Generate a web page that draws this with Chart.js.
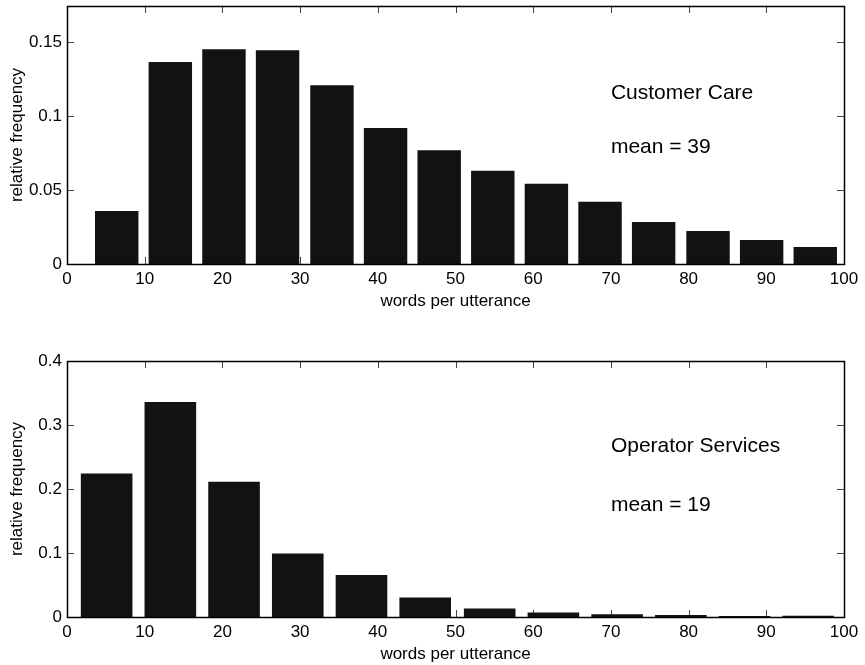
<!DOCTYPE html>
<html>
<head>
<meta charset="utf-8">
<title>words per utterance</title>
<script src="https://cdn.jsdelivr.net/npm/chart.js@4/dist/chart.umd.min.js"></script>
<style>
  body { margin: 0; background: #fff; }
  canvas { display: block; }
</style>
</head>
<body>
<canvas id="chartCare" width="865" height="332"></canvas>
<canvas id="chartOperator" width="865" height="333"></canvas>
<script>
// bin centres and relative frequencies
const careBins = [6.4, 13.3, 20.2, 27.1, 34.1, 41.0, 47.9, 54.8, 61.7, 68.6, 75.5, 82.5, 89.4, 96.3];
const careFreq = [0.0358, 0.1367, 0.1453, 0.1446, 0.1209, 0.0919, 0.0770, 0.0630, 0.0543, 0.0421, 0.0284, 0.0223, 0.0162, 0.0115];

const operatorBins = [5.1, 13.3, 21.5, 29.7, 37.9, 46.1, 54.4, 62.6, 70.8, 79.0, 87.2, 95.4];
const operatorFreq = [0.2244, 0.336, 0.2114, 0.0994, 0.0656, 0.0306, 0.0134, 0.0072, 0.0042, 0.0030, 0.0015, 0.0020];

const xTicks = [0, 10, 20, 30, 40, 50, 60, 70, 80, 90, 100];
const careYTicks = [0, 0.05, 0.1, 0.15];
const operatorYTicks = [0, 0.1, 0.2, 0.3, 0.4];

const careNotes = ['Customer Care', 'mean = 39'];
const operatorNotes = ['Operator Services', 'mean = 19'];

const fontFamily = '"Liberation Sans", Arial, Helvetica, sans-serif';
Chart.defaults.font.family = fontFamily;
Chart.defaults.color = '#000';

// matlab-like box with inward ticks on all four sides
const boxTicks = {
  id: 'boxTicks',
  beforeDatasetsDraw(chart) {
    const { ctx, chartArea: a, scales: { x, y } } = chart;
    const len = 7;
    ctx.save();
    ctx.strokeStyle = '#444';
    ctx.lineWidth = 1;
    ctx.beginPath();
    x.ticks.forEach(t => {
      const px = Math.round(x.getPixelForValue(t.value)) + 0.5;
      ctx.moveTo(px, a.bottom); ctx.lineTo(px, a.bottom - len);
      ctx.moveTo(px, a.top); ctx.lineTo(px, a.top + len);
    });
    y.ticks.forEach(t => {
      const py = Math.round(y.getPixelForValue(t.value)) + 0.5;
      ctx.moveTo(a.left, py); ctx.lineTo(a.left + len, py);
      ctx.moveTo(a.right, py); ctx.lineTo(a.right - len, py);
    });
    ctx.stroke();
    ctx.restore();
  },
  afterDatasetsDraw(chart) {
    const { ctx, chartArea: a } = chart;
    ctx.save();
    ctx.strokeStyle = '#000';
    ctx.lineWidth = 1.5;
    ctx.strokeRect(Math.round(a.left) + 0.5, Math.round(a.top) + 0.5,
      Math.round(a.right - a.left), Math.round(a.bottom - a.top));
    ctx.restore();
  },
  afterDraw(chart, args, opts) {
    const { ctx, scales: { x, y } } = chart;
    ctx.save();
    ctx.fillStyle = '#000';
    ctx.font = '21px ' + fontFamily;
    ctx.textBaseline = 'middle';
    ctx.textAlign = 'left';
    opts.notes.forEach((txt, i) => {
      ctx.fillText(txt, x.getPixelForValue(opts.noteX), y.getPixelForValue(opts.noteY[i]));
    });
    ctx.restore();
  }
};

function makeChart(id, bins, freq, yTicks, yMax, padding, notes, noteY) {
  const ctx = document.getElementById(id).getContext('2d');
  return new Chart(ctx, {
    type: 'bar',
    data: {
      datasets: [{
        data: bins.map((b, i) => ({ x: b, y: freq[i] })),
        backgroundColor: '#121212',
        borderWidth: 0,
        barPercentage: 1,
        categoryPercentage: 0.81
      }]
    },
    options: {
      responsive: false,
      animation: false,
      layout: { padding: padding },
      plugins: {
        legend: { display: false },
        tooltip: { enabled: false },
        boxTicks: { notes: notes, noteX: 70, noteY: noteY }
      },
      scales: {
        x: {
          type: 'linear',
          min: 0,
          max: 100,
          offset: false,
          grid: { display: false, offset: false, drawTicks: false },
          border: { display: false },
          afterBuildTicks: s => { s.ticks = xTicks.map(v => ({ value: v })); },
          afterFit: s => { s.height = 48; s.paddingLeft = 0; s.paddingRight = 0; },
          ticks: {
            autoSkip: false,
            maxRotation: 0,
            padding: 5,
            font: { size: 17 },
            callback: v => String(v)
          },
          title: {
            display: true,
            text: 'words per utterance',
            font: { size: 17 },
            padding: 0
          }
        },
        y: {
          min: 0,
          max: yMax,
          grid: { display: false, drawTicks: false },
          border: { display: false },
          afterBuildTicks: s => { s.ticks = yTicks.map(v => ({ value: v })); },
          afterFit: s => { s.width = 67; s.paddingTop = 0; s.paddingBottom = 0; },
          ticks: {
            padding: 5,
            font: { size: 17 },
            callback: v => String(+v.toFixed(2))
          },
          title: {
            display: true,
            text: 'relative frequency',
            font: { size: 17 },
            padding: { top: 7, bottom: 0 }
          }
        }
      }
    },
    plugins: [boxTicks]
  });
}

makeChart('chartCare', careBins, careFreq, careYTicks, 0.1745,
  { left: 0, right: 21, top: 6, bottom: 20 }, careNotes, [0.1155, 0.079]);
makeChart('chartOperator', operatorBins, operatorFreq, operatorYTicks, 0.4,
  { left: 0, right: 21, top: 29, bottom: 0 }, operatorNotes, [0.2666, 0.1744]);
</script>
</body>
</html>
